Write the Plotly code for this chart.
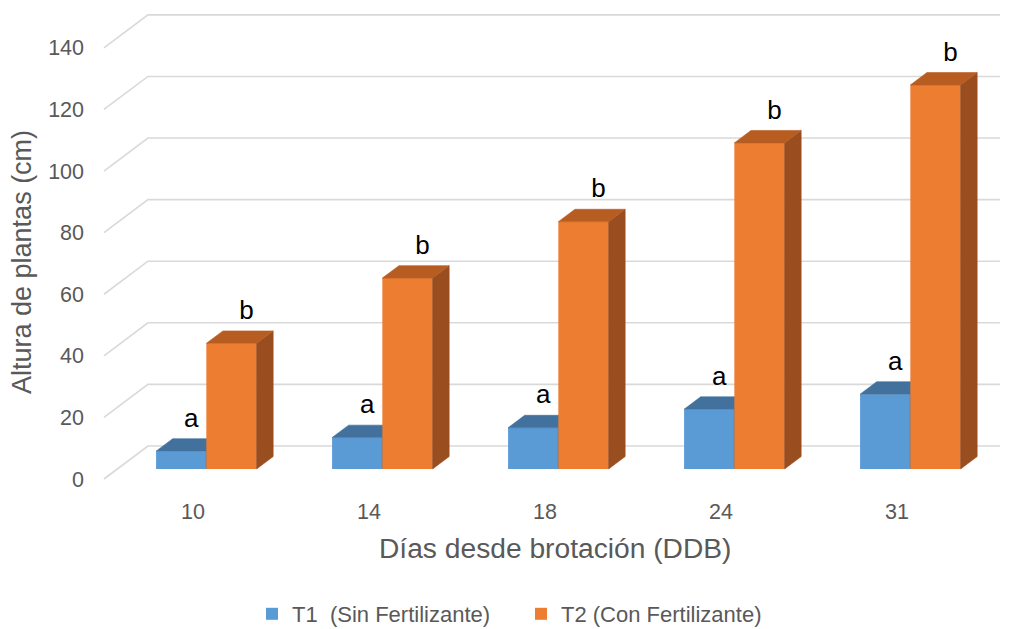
import plotly.graph_objects as go

# Plant height (cm) by days since sprouting, two treatments
dias = ["10", "14", "18", "24", "31"]
t1_altura = [5.8, 10.2, 13.4, 19.4, 24.3]
t2_altura = [40.8, 62.0, 80.3, 105.9, 124.7]
t1_letras = ["a", "a", "a", "a", "a"]
t2_letras = ["b", "b", "b", "b", "b"]
t1_nombre = "T1\u00a0 (Sin Fertilizante)"
t2_nombre = "T2 (Con Fertilizante)"
y_ticks = [0, 20, 40, 60, 80, 100, 120, 140]

# colours
AZUL, AZUL_TOP, AZUL_LADO = "#5B9BD5", "#41719C", "#3A6690"
NAR, NAR_TOP, NAR_LADO = "#ED7D31", "#B85D22", "#9A4E1F"
GRID = "#D9D9D9"
TXT = "#595959"
FONT = "Liberation Sans, Arial, sans-serif"

# pseudo-3D projection: full depth shifts x by DX and y by DY (data units)
DX, DY = 0.25, 10.72
D0, D1 = 0.303, 0.68          # front / back depth of the bars
BAR_W = 0.2855                # bar width in category units
WALL_L = -0.506               # front edge of the side wall
WALL_R = 4.585                # right end of the back wall
X_RANGE = [-0.52841, 4.61932]
Y_RANGE = [-3.57, 152.3]

pos = list(range(len(dias)))


def proj(x, v, d):
    return x + DX * d, v + DY * d


# gridlines on the side and back walls
gx, gy = [], []
for v in y_ticks:
    x0, y0 = proj(WALL_L, v, 0)
    x1, y1 = proj(WALL_L, v, 1)
    gx += [x0, x1, WALL_R, None]
    gy += [y0, y1, y1, None]

fig = go.Figure()
fig.add_trace(go.Scatter(x=gx, y=gy, mode="lines", line=dict(color=GRID, width=1.6),
                         showlegend=False, hoverinfo="skip", xaxis="x", yaxis="y"))


def faces(lefts, values, top_col, side_col, axx, axy):
    tx, ty, sx, sy = [], [], [], []
    for xl, v in zip(lefts, values):
        xr = xl + BAR_W
        a = proj(xl, v, D0); b = proj(xr, v, D0)
        c = proj(xr, v, D1); d = proj(xl, v, D1)
        tx += [a[0], b[0], c[0], d[0], a[0], None]
        ty += [a[1], b[1], c[1], d[1], a[1], None]
        e = proj(xr, 0, D0); f = proj(xr, 0, D1)
        sx += [e[0], f[0], c[0], b[0], e[0], None]
        sy += [e[1], f[1], c[1], b[1], e[1], None]
    out = []
    for xs, ys, col in ((sx, sy, side_col), (tx, ty, top_col)):
        out.append(go.Scatter(x=xs, y=ys, mode="lines", fill="toself", fillcolor=col,
                              line=dict(color=col, width=0.6), showlegend=False,
                              hoverinfo="skip", xaxis=axx, yaxis=axy))
    return out


def serie(values, letras, side, nombre, col, top_col, side_col, axx, axy, lab_dx):
    lefts = [p - BAR_W if side == 0 else p for p in pos]
    fig.add_trace(go.Bar(x=[l + BAR_W / 2 + DX * D0 for l in lefts], y=values,
                         base=DY * D0, width=BAR_W, name=nombre,
                         marker=dict(color=col, line=dict(width=0)),
                         hoverinfo="skip", xaxis=axx, yaxis=axy))
    for tr in faces(lefts, values, top_col, side_col, axx, axy):
        fig.add_trace(tr)
    fig.add_trace(go.Scatter(
        x=[l + BAR_W / 2 + DX * D0 + lab_dx for l in lefts],
        y=[v + DY * D0 + 10.0 for v in values],
        mode="text", text=letras, textposition="middle center",
        textfont=dict(family=FONT, size=26, color="#000000"),
        showlegend=False, hoverinfo="skip", xaxis=axx, yaxis=axy))


serie(t1_altura, t1_letras, 0, t1_nombre, AZUL, AZUL_TOP, AZUL_LADO, "x2", "y2", 0.057)
serie(t2_altura, t2_letras, 1, t2_nombre, NAR, NAR_TOP, NAR_LADO, "x3", "y3", 0.085)

hidden = dict(range=X_RANGE, visible=False, fixedrange=True)
fig.update_layout(
    width=1016, height=629,
    margin=dict(l=100, r=10, t=10, b=139),
    paper_bgcolor="white", plot_bgcolor="white",
    font=dict(family=FONT, color=TXT, size=22),
    showlegend=True,
    xaxis=dict(range=X_RANGE, tickvals=pos, ticktext=dias, showgrid=False,
               zeroline=False, showline=False, ticks="", ticklabelstandoff=6,
               tickfont=dict(size=21.5, color=TXT), automargin=False),
    yaxis=dict(range=Y_RANGE, tickvals=y_ticks, showgrid=False, zeroline=False,
               showline=False, ticks="", ticklabelstandoff=15,
               tickfont=dict(size=21.5, color=TXT), automargin=False),
    xaxis2=dict(overlaying="x", **hidden),
    yaxis2=dict(overlaying="y", range=Y_RANGE, visible=False),
    xaxis3=dict(overlaying="x", **hidden),
    yaxis3=dict(overlaying="y", range=Y_RANGE, visible=False),
    legend=dict(orientation="h", xref="container", x=252 / 1016, xanchor="left",
                yref="container", y=1 - 614 / 629, yanchor="middle", entrywidth=224,
                font=dict(size=22, color=TXT), bgcolor="rgba(0,0,0,0)"),
    annotations=[
        dict(text="Días desde brotación (DDB)", xref="paper", yref="paper",
             x=(555.5 - 100) / 906, y=(490 - 548) / 480, showarrow=False,
             xanchor="center", yanchor="middle", font=dict(size=28.2, color=TXT)),
        dict(text="Altura de plantas (cm)", xref="paper", yref="paper",
             x=(22 - 100) / 906, y=(490 - 262) / 480, showarrow=False, textangle=-90,
             xanchor="center", yanchor="middle", font=dict(size=27, color=TXT)),
    ],
)

fig.write_html("out.html")
